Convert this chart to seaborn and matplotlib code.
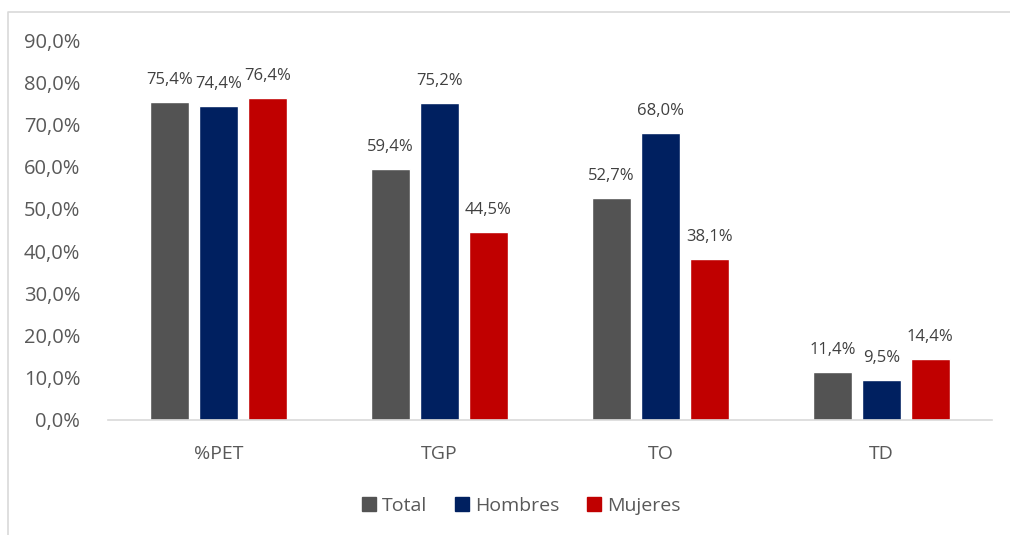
import matplotlib
matplotlib.use('Agg')
import matplotlib.pyplot as plt
from matplotlib.patches import Rectangle
from matplotlib.lines import Line2D
import seaborn as sns
import pandas as pd

# chart data
categories = ['%PET', 'TGP', 'TO', 'TD']
series = ['Total', 'Hombres', 'Mujeres']
total = [75.4, 59.4, 52.7, 11.4]
hombres = [74.4, 75.2, 68.0, 9.5]
mujeres = [76.4, 44.5, 38.1, 14.4]
colors = ['#535353', '#002060', '#C00000']

df = pd.DataFrame({
    'cat': categories * 3,
    'serie': [s for s in series for _ in categories],
    'valor': total + hombres + mujeres,
})

sns.set_style('white')
plt.rcParams['font.family'] = ['Open Sans', 'DejaVu Sans']

fig = plt.figure(figsize=(10.1, 5.35), dpi=100)
ax = fig.add_axes([0.107, 0.215, 0.875, 0.71])

sns.barplot(data=df, x='cat', y='valor', hue='serie', order=categories,
            hue_order=series, palette=colors, width=0.666, gap=0.2,
            saturation=1, ax=ax, legend=False)

ax.set_ylim(0, 90)
ax.set_xlim(-0.5, 3.5)
ax.set_yticks(range(0, 91, 10))
ax.set_yticklabels([f'{v},0%' for v in range(0, 91, 10)])
ax.set_xlabel('')
ax.set_ylabel('')
ax.tick_params(axis='y', labelsize=14.5, labelcolor='#595959', length=0, pad=20)
ax.tick_params(axis='x', labelsize=14, labelcolor='#595959', length=0, pad=18)

for side in ['top', 'right', 'left']:
    ax.spines[side].set_visible(False)
ax.spines['bottom'].set_color('#D9D9D9')
ax.spines['bottom'].set_linewidth(1.2)

# data labels above bars
for container in ax.containers:
    labels = [f'{b.get_height():.1f}'.replace('.', ',') + '%' for b in container]
    ax.bar_label(container, labels=labels, padding=10, fontsize=12, color='#404040')

# legend at the bottom
handles = [Rectangle((0, 0), 1, 1, color=c) for c in colors]
fig.legend(handles, series, loc='center', bbox_to_anchor=(0.516, 0.055), ncol=3,
           frameon=False, fontsize=14, labelcolor='#595959',
           handlelength=0.75, handleheight=0.75, handletextpad=0.3, columnspacing=1.4)

# chart border (left and top only are visible)
fig.add_artist(Line2D([8 / 1010, 8 / 1010, 1.0], [0.0, 1 - 12 / 535, 1 - 12 / 535],
                      transform=fig.transFigure, color='#D9D9D9', linewidth=1.2))

fig.savefig('out.png', dpi=100)
